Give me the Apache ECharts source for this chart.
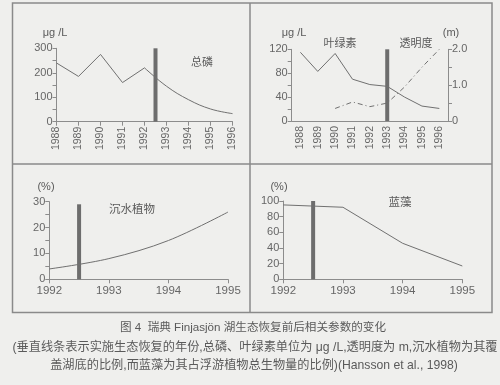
<!DOCTYPE html>
<html><head><meta charset="utf-8">
<script src="https://cdn.jsdelivr.net/npm/echarts@6/dist/echarts.min.js"></script>
<style>html,body{margin:0;padding:0;background:#efefed;}#c{width:500px;height:385px;}</style>
</head><body><div id="c"></div>
<script>
// ---- data ----
const yearsTop = ['1988','1989','1990','1991','1992','1993','1994','1995','1996'];
const phosYearsA = [1988, 1989, 1990, 1991, 1992];
const phosValuesA = [240, 185, 275, 160, 220];
const phosYearsB = [1992, 1993, 1994, 1995, 1996];
const phosValuesB = [220, 145, 90, 52, 33];
const phosRestoreYear = 1992.5, phosBarHeight = 320;
const chlValues = [115, 83, 113, 70, 61, 58, 40, 25, 21];
const secchiValues = [null, null, 0.35, 0.53, 0.40, 0.50, 0.95, 1.50, 2.00];
const chlBar = [null, null, null, null, null, 125, null, null, null];
const bottomYears = [1992, 1993, 1994, 1995];
const macroValues = [4, 8, 15, 26];
const macroRestoreYear = 1992.5, macroBarHeight = 29;
const cyanoValues = [95, 92, 46, 17];
const cyanoRestoreYear = 1992.5, cyanoBarHeight = 100;

const FONT = "'Liberation Sans', 'Noto Sans CJK SC', sans-serif";
const AX = '#8c8c8c', LINE = '#707070', BAR = '#6d6d6d', TXT = '#666';

function xy(xs, ys){ return xs.map((x,i)=>[x, ys[i]]); }

function valAxis(extra){
  return Object.assign({
    type:'value',
    axisLine:{show:true, lineStyle:{color:AX, width:1}},
    axisTick:{show:true, length:4, lineStyle:{color:AX}},
    minorTick:{show:false},
    splitLine:{show:false},
    axisLabel:{color:TXT, fontSize:11, fontFamily:FONT, margin:4}
  }, extra);
}

const chart = echarts.init(document.getElementById('c'), null, {renderer:'canvas'});
const txt = (x,y,s,size,align) => ({type:'text', x:x, y:y, style:{text:s, fill:'#5a5a5a', font: (size||11)+'px '+FONT, textAlign:align||'center', textVerticalAlign:'middle'}});

chart.setOption({
  backgroundColor:'#efefed',
  animation:false,
  grid:[
    {left:56.5, top:48.3, width:176, height:73.4},
    {left:291.7, top:49.3, width:156.3, height:71.7},
    {left:49.3, top:201.7, width:178.7, height:77.6},
    {left:283.3, top:201, width:179, height:78.3}
  ],
  xAxis:[
    valAxis({gridIndex:0, min:1988, max:1996, interval:1,
      axisLabel:{color:TXT, fontSize:10.5, fontFamily:FONT, rotate:90, margin:5, formatter:v=>String(v)}}),
    {type:'category', gridIndex:1, data:yearsTop, boundaryGap:true,
      axisLine:{lineStyle:{color:AX}}, axisTick:{length:4, lineStyle:{color:AX}},
      axisLabel:{color:TXT, fontSize:10.5, fontFamily:FONT, rotate:90, margin:5}},
    valAxis({gridIndex:2, min:1992, max:1995, interval:1,
      axisLabel:{color:TXT, fontSize:11.5, fontFamily:FONT, margin:6, formatter:v=>String(v)}}),
    valAxis({gridIndex:3, min:1992, max:1995, interval:1,
      axisLabel:{color:TXT, fontSize:11.5, fontFamily:FONT, margin:6, formatter:v=>String(v)}})
  ],
  yAxis:[
    valAxis({gridIndex:0, min:0, max:300, interval:100, minorTick:{show:true, splitNumber:2, length:4, lineStyle:{color:AX}}}),
    valAxis({gridIndex:1, min:0, max:120, interval:40, minorTick:{show:true, splitNumber:2, length:4, lineStyle:{color:AX}}}),
    valAxis({gridIndex:1, position:'right', min:0, max:2, interval:1, minorTick:{show:true, splitNumber:2, length:4, lineStyle:{color:AX}},
      axisLabel:{color:TXT, fontSize:11, fontFamily:FONT, margin:4, formatter:v=> v===0?'0':v.toFixed(1)}}),
    valAxis({gridIndex:2, min:0, max:30, interval:10, minorTick:{show:true, splitNumber:2, length:4, lineStyle:{color:AX}}}),
    valAxis({gridIndex:3, min:0, max:100, interval:20})
  ],
  series:[
    {type:'line', xAxisIndex:0, yAxisIndex:0, data:xy(phosYearsA, phosValuesA), showSymbol:false, lineStyle:{color:LINE, width:1}},
    {type:'line', xAxisIndex:0, yAxisIndex:0, data:xy(phosYearsB, phosValuesB), smooth:0.4, showSymbol:false, lineStyle:{color:LINE, width:1}},
    {type:'bar', xAxisIndex:0, yAxisIndex:0, data:[[phosRestoreYear, phosBarHeight]], barWidth:4, itemStyle:{color:BAR}},

    {type:'line', xAxisIndex:1, yAxisIndex:1, data:chlValues, showSymbol:false, lineStyle:{color:LINE, width:1}},
    {type:'line', xAxisIndex:1, yAxisIndex:2, data:secchiValues, showSymbol:false, connectNulls:false, lineStyle:{color:LINE, width:1, type:[5,3,1,3]}},
    {type:'bar', xAxisIndex:1, yAxisIndex:1, data:chlBar, barWidth:4, itemStyle:{color:BAR}},

    {type:'line', xAxisIndex:2, yAxisIndex:3, data:xy(bottomYears, macroValues), smooth:0.35, showSymbol:false, lineStyle:{color:LINE, width:1}},
    {type:'bar', xAxisIndex:2, yAxisIndex:3, data:[[macroRestoreYear, macroBarHeight]], barWidth:4, itemStyle:{color:BAR}},

    {type:'line', xAxisIndex:3, yAxisIndex:4, data:xy(bottomYears, cyanoValues), showSymbol:false, lineStyle:{color:LINE, width:1}},
    {type:'bar', xAxisIndex:3, yAxisIndex:4, data:[[cyanoRestoreYear, cyanoBarHeight]], barWidth:4, itemStyle:{color:BAR}}
  ],
  graphic:[
    {type:'rect', shape:{x:12.5, y:3, width:479.5, height:309.5}, style:{fill:'none', stroke:'#8a8a8a', lineWidth:1.5}},
    {type:'line', shape:{x1:12.5, y1:164, x2:492, y2:164}, style:{stroke:'#8a8a8a', lineWidth:1.5}},
    {type:'line', shape:{x1:250, y1:3, x2:250, y2:312.5}, style:{stroke:'#8a8a8a', lineWidth:1.5}},
    txt(55, 33, 'μg /L', 11),
    txt(202, 63, '总磷', 11),
    txt(294, 33, 'μg /L', 11),
    txt(451, 33, '(m)', 11),
    txt(340, 44, '叶绿素', 11),
    txt(416, 44, '透明度', 11),
    txt(46, 187, '(%)', 11),
    txt(132, 210, '沉水植物', 11.5),
    txt(279, 187, '(%)', 11),
    txt(400, 203, '蓝藻', 11.5),
    txt(253, 328, '图 4  瑞典 Finjasjön 湖生态恢复前后相关参数的变化', 11.6),
    txt(255, 348, '(垂直线条表示实施生态恢复的年份,总磷、叶绿素单位为 μg /L,透明度为 m,沉水植物为其覆', 12.2),
    txt(254, 366, '盖湖底的比例,而蓝藻为其占浮游植物总生物量的比例)(Hansson et al., 1998)', 12.2)
  ]
});
</script></body></html>
